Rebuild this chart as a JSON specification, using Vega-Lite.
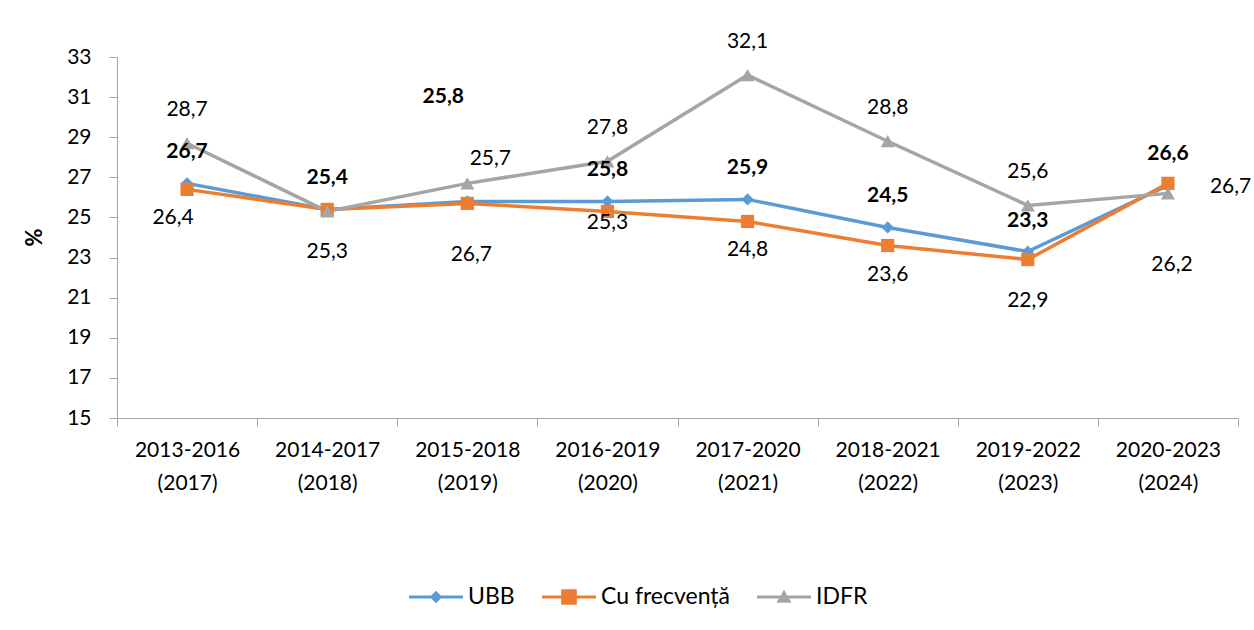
{
  "$schema": "https://vega.github.io/schema/vega-lite/v6.json",
  "autosize": {"type": "none"},
  "padding": {"left": 117, "top": 57, "right": 16, "bottom": 212},
  "width": 1121,
  "height": 361,
  "background": "white",
  "config": {
    "font": "Lato",
    "view": {"stroke": null},
    "axis": {"grid": false, "domainColor": "#A6A6A6", "tickColor": "#A6A6A6", "labelColor": "#000000", "labelFont": "Lato", "labelFontSize": 21, "titleFont": "Lato"},
    "text": {"font": "Lato", "fontSize": 21, "color": "#000000"}
  },
  "data": {
    "values": [
      {"period": "2013-2016 (2017)", "series": "UBB", "value": 26.7, "label": "26,7", "place": "above"},
      {"period": "2014-2017 (2018)", "series": "UBB", "value": 25.4, "label": "25,4", "place": "above"},
      {"period": "2015-2018 (2019)", "series": "UBB", "value": 25.8, "label": "25,8", "place": "high"},
      {"period": "2016-2019 (2020)", "series": "UBB", "value": 25.8, "label": "25,8", "place": "above"},
      {"period": "2017-2020 (2021)", "series": "UBB", "value": 25.9, "label": "25,9", "place": "above"},
      {"period": "2018-2021 (2022)", "series": "UBB", "value": 24.5, "label": "24,5", "place": "above"},
      {"period": "2019-2022 (2023)", "series": "UBB", "value": 23.3, "label": "23,3", "place": "above"},
      {"period": "2020-2023 (2024)", "series": "UBB", "value": 26.6, "label": "26,6", "place": "above"},
      {"period": "2013-2016 (2017)", "series": "Cu frecvență", "value": 26.4, "label": "26,4", "place": "belowleft"},
      {"period": "2014-2017 (2018)", "series": "Cu frecvență", "value": 25.4, "label": "", "place": "none"},
      {"period": "2015-2018 (2019)", "series": "Cu frecvență", "value": 25.7, "label": "25,7", "place": "upright"},
      {"period": "2016-2019 (2020)", "series": "Cu frecvență", "value": 25.3, "label": "25,3", "place": "near"},
      {"period": "2017-2020 (2021)", "series": "Cu frecvență", "value": 24.8, "label": "24,8", "place": "below"},
      {"period": "2018-2021 (2022)", "series": "Cu frecvență", "value": 23.6, "label": "23,6", "place": "below"},
      {"period": "2019-2022 (2023)", "series": "Cu frecvență", "value": 22.9, "label": "22,9", "place": "below2"},
      {"period": "2020-2023 (2024)", "series": "Cu frecvență", "value": 26.7, "label": "26,7", "place": "right"},
      {"period": "2013-2016 (2017)", "series": "IDFR", "value": 28.7, "label": "28,7", "place": "above"},
      {"period": "2014-2017 (2018)", "series": "IDFR", "value": 25.3, "label": "25,3", "place": "below2"},
      {"period": "2015-2018 (2019)", "series": "IDFR", "value": 26.7, "label": "26,7", "place": "below3"},
      {"period": "2016-2019 (2020)", "series": "IDFR", "value": 27.8, "label": "27,8", "place": "above"},
      {"period": "2017-2020 (2021)", "series": "IDFR", "value": 32.1, "label": "32,1", "place": "above"},
      {"period": "2018-2021 (2022)", "series": "IDFR", "value": 28.8, "label": "28,8", "place": "above"},
      {"period": "2019-2022 (2023)", "series": "IDFR", "value": 25.6, "label": "25,6", "place": "above"},
      {"period": "2020-2023 (2024)", "series": "IDFR", "value": 26.2, "label": "26,2", "place": "below3"}
    ]
  },
  "encoding": {
    "x": {
      "field": "period", "type": "nominal", "sort": null, "bandPosition": 0.5,
      "scale": {"type": "band", "paddingInner": 0, "paddingOuter": 0},
      "axis": {"title": null, "labelAngle": 0, "tickBand": "extent", "tickSize": 8, "labelPadding": 13, "labelLineHeight": 33, "labelExpr": "split(datum.label, ' ')"}
    },
    "y": {
      "field": "value", "type": "quantitative",
      "scale": {"domain": [15, 33], "nice": false, "zero": false},
      "axis": {"title": "%", "values": [15, 17, 19, 21, 23, 25, 27, 29, 31, 33], "tickSize": 8, "labelPadding": 18, "titleFontSize": 22, "titleFontWeight": "bold", "titleAngle": 270, "titleBaseline": "middle", "titleAlign": "center", "titleX": -83, "titleY": 180}
    }
  },
  "layer": [
    {
      "mark": {"type": "line", "strokeWidth": 3.5},
      "encoding": {
        "color": {"field": "series", "type": "nominal", "scale": {"domain": ["UBB", "Cu frecvență", "IDFR"], "range": ["#5B9BD5", "#ED7D31", "#A5A5A5"]}, "legend": null}
      }
    },
    {
      "mark": {"type": "point", "filled": true, "opacity": 1, "strokeWidth": 0},
      "encoding": {
        "color": {"field": "series", "type": "nominal", "scale": {"domain": ["UBB", "Cu frecvență", "IDFR"], "range": ["#5B9BD5", "#ED7D31", "#A5A5A5"]}, "legend": null},
        "shape": {"field": "series", "type": "nominal", "scale": {"domain": ["UBB", "Cu frecvență", "IDFR"], "range": ["diamond", "square", "triangle-up"]}, "legend": null},
        "size": {"field": "series", "type": "nominal", "scale": {"domain": ["UBB", "Cu frecvență", "IDFR"], "range": [150, 200, 210]}, "legend": null}
      }
    },
    {
      "transform": [{"filter": "false"}],
      "mark": {"type": "point", "filled": true, "opacity": 1, "strokeWidth": 0, "size": 2916},
      "encoding": {
        "color": {"field": "series", "type": "nominal", "title": null, "scale": {"domain": ["UBB", "Cu frecvență", "IDFR"], "range": ["#5B9BD5", "#ED7D31", "#A5A5A5"]},
          "legend": {"orient": "none", "direction": "horizontal", "legendX": 292, "legendY": 513, "symbolSize": 2916, "symbolStrokeWidth": 0, "labelFontSize": 23, "labelFont": "Lato", "labelColor": "#000000", "labelOffset": 5, "columnPadding": 27}},
        "shape": {"field": "series", "type": "nominal", "title": null, "scale": {"domain": ["UBB", "Cu frecvență", "IDFR"], "range": [
          "M-1,-0.06H1V0.06H-1Z M0,-0.23L0.23,0L0,0.23L-0.23,0Z",
          "M-1,-0.06H1V0.06H-1Z M-0.29,-0.29H0.29V0.29H-0.29Z",
          "M-1,-0.06H1V0.06H-1Z M0,-0.27L0.28,0.21H-0.28Z"
        ]}}
      }
    },
    {
      "transform": [{"filter": "datum.series == 'UBB' && datum.place == 'above'"}],
      "mark": {"type": "text", "fontWeight": "bold", "dy": -31},
      "encoding": {"text": {"field": "label"}}
    },
    {
      "transform": [{"filter": "datum.series == 'UBB' && datum.place == 'high'"}],
      "mark": {"type": "text", "fontWeight": "bold", "dy": -104, "dx": -24},
      "encoding": {"text": {"field": "label"}}
    },
    {
      "transform": [{"filter": "datum.series != 'UBB' && datum.place == 'above'"}],
      "mark": {"type": "text", "dy": -33},
      "encoding": {"text": {"field": "label"}}
    },
    {
      "transform": [{"filter": "datum.place == 'below'"}],
      "mark": {"type": "text", "dy": 29},
      "encoding": {"text": {"field": "label"}}
    },
    {
      "transform": [{"filter": "datum.place == 'belowleft'"}],
      "mark": {"type": "text", "dy": 29, "dx": -14},
      "encoding": {"text": {"field": "label"}}
    },
    {
      "transform": [{"filter": "datum.place == 'near'"}],
      "mark": {"type": "text", "dy": 12},
      "encoding": {"text": {"field": "label"}}
    },
    {
      "transform": [{"filter": "datum.place == 'below2'"}],
      "mark": {"type": "text", "dy": 41},
      "encoding": {"text": {"field": "label"}}
    },
    {
      "transform": [{"filter": "datum.place == 'below3'"}],
      "mark": {"type": "text", "dy": 72, "dx": 4},
      "encoding": {"text": {"field": "label"}}
    },
    {
      "transform": [{"filter": "datum.place == 'upright'"}],
      "mark": {"type": "text", "dy": -44, "dx": 23},
      "encoding": {"text": {"field": "label"}}
    },
    {
      "transform": [{"filter": "datum.place == 'right'"}],
      "mark": {"type": "text", "align": "left", "dy": 4, "dx": 42},
      "encoding": {"text": {"field": "label"}}
    }
  ],
  "resolve": {"scale": {"color": "independent", "shape": "independent", "size": "independent"}}
}
